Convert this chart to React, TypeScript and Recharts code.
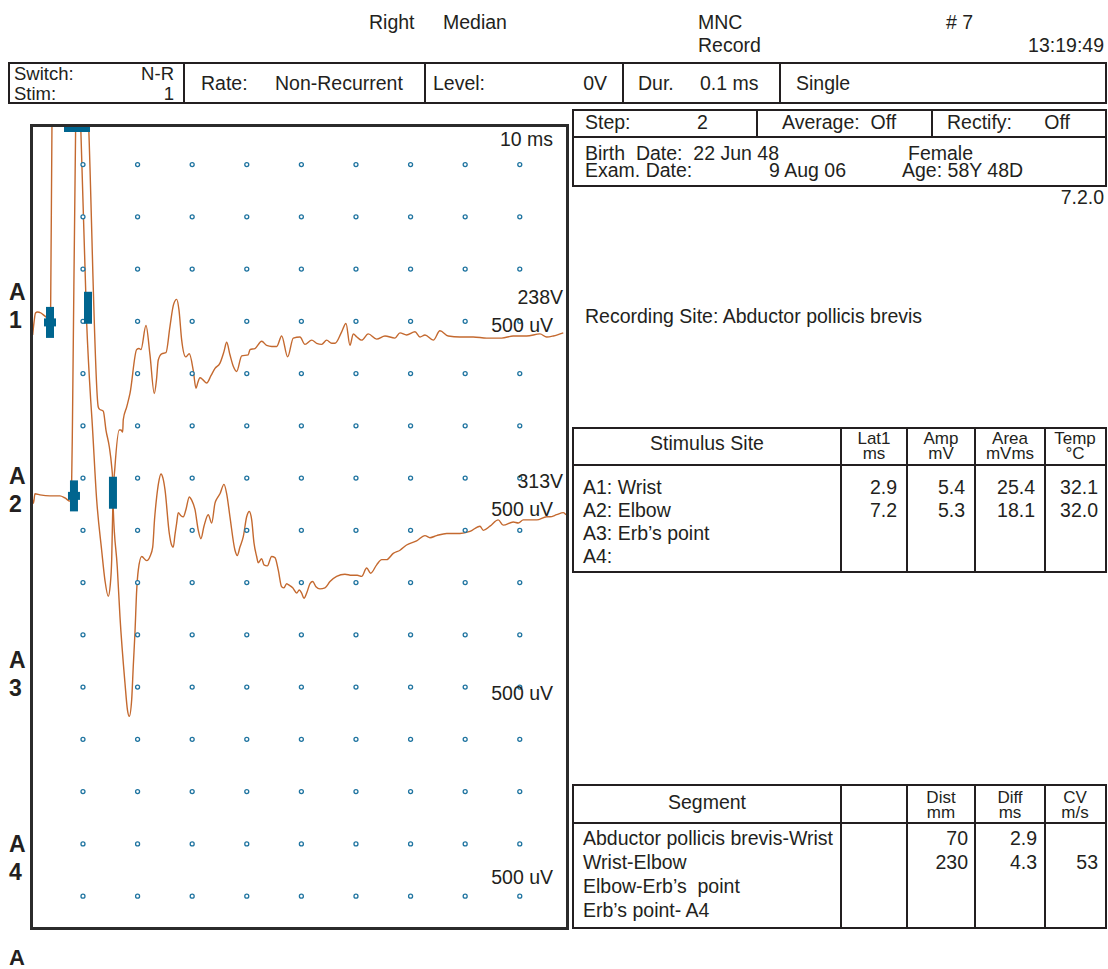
import React from 'react'
import { ComposedChart, Line, Scatter, XAxis, YAxis } from 'recharts'

const FONT = '"Liberation Sans", Arial, Helvetica, sans-serif'
const INK = '#231f20'
const TRACE = '#c4692f'
const MARK = '#00658f'
const DOT = '#1f74a0'

// sweep 10 ms / division, sensitivity 500 uV / division
const TIME_TICKS = [10, 20, 30, 40, 50, 60, 70, 80, 90]
const LEVEL_TICKS = [0, 0.5, 1, 1.5, 2, 2.5, 3, 3.5, 4, 4.5, 5, 5.5, 6, 6.5, 7]
const X_DOMAIN: [number, number] = [0.48, 98.65]
const Y_DOMAIN: [number, number] = [-0.305, 7.379]

// vertical position of each channel's baseline (mV on the shared scale)
const BASE: Record<string, number> = { A1: 5.59, A2: 3.83 }

// [ms, mV] relative to channel baseline, negative up
const A1_TRACE: [number, number][] = [
  [0.79, -0.22], [1.03, -0.1], [1.3, -0.01], [1.67, 0], [2.31, -0.01], [3.04, -0.04], [3.59, -0.06],
  [4.08, 0.05], [4.32, 1.79], [7.99, 5.4], [9.58, 1.79], [10.68, -0.11], [11.41, -0.84], [11.65, -1.03],
  [12.51, -1.8], [13.42, -2.28], [14.03, -2.57], [14.63, -2.72], [15.0, -2.61], [15.26, -2.37],
  [15.49, -1.8], [15.86, -1.48], [16.65, -1.13], [16.96, -1.13], [17.27, -1.15], [17.38, -1.03],
  [18.0, -0.91], [18.61, -0.78], [19.84, -0.36], [20.26, -0.35], [20.62, -0.36], [21.54, -0.13],
  [22.27, -0.41], [23.06, -0.78], [23.46, -0.65], [23.79, -0.46], [24.41, -0.4], [25.2, -0.39],
  [25.93, -0.14], [26.58, 0.07], [27.16, 0.12], [27.58, 0.02], [28.08, -0.27], [28.81, -0.43],
  [29.47, -0.4], [30.2, -0.56], [30.7, -0.73], [31.01, -0.68], [31.43, -0.63], [31.98, -0.65],
  [32.66, -0.68], [33.44, -0.61], [34.18, -0.54], [35.09, -0.49], [35.82, -0.38], [36.32, -0.29],
  [36.92, -0.41], [37.53, -0.52], [38.15, -0.57], [39.07, -0.42], [40.27, -0.41], [40.59, -0.36],
  [41.5, -0.35], [42.73, -0.28], [43.64, -0.32], [44.56, -0.33], [45.48, -0.33], [46.39, -0.23],
  [47.49, -0.43], [48.52, -0.25], [49.74, -0.24], [50.66, -0.31], [51.89, -0.27], [52.8, -0.3],
  [53.72, -0.31], [54.63, -0.27], [55.55, -0.3], [56.15, -0.3], [57.38, -0.19], [58.17, -0.11],
  [58.9, -0.32], [59.51, -0.21], [60.18, -0.24], [61.04, -0.27], [62.25, -0.21], [63.79, -0.26],
  [65.31, -0.23], [67.14, -0.25], [68.06, -0.2], [69.27, -0.22], [70.81, -0.19], [71.72, -0.24],
  [72.64, -0.22], [74.16, -0.27], [75.38, -0.18], [76.9, -0.23], [79.05, -0.24], [81.48, -0.24],
  [83.94, -0.25], [86.69, -0.25], [88.81, -0.23], [91.26, -0.23], [93.7, -0.21], [94.93, -0.24],
  [96.14, -0.23], [97.97, -0.2],
]

const A2_TRACE: [number, number][] = [
  [0.66, -0.01], [0.93, -0.07], [1.21, 0.02], [2.12, 0.01], [3.96, 0], [5.79, 0], [6.7, -0.02],
  [7.62, -0.05], [7.93, 0.15], [8.08, 0.73], [8.66, 3.55], [9.82, 5.3], [11.04, 3.55], [12.8, 0.85],
  [13.02, 0.83], [13.72, 0.81], [14.21, 0.63], [14.82, 0.47], [15.26, 0.28], [15.44, 0.15],
  [15.55, -0.13], [16.28, -0.68], [16.78, -1.16], [17.69, -1.79], [18.15, -2.05], [18.48, -2.11],
  [18.92, -1.95], [19.21, -1.63], [19.52, -1.31], [19.84, -0.9], [20.13, -0.71], [20.75, -0.58],
  [21.67, -0.62], [22.27, -0.58], [22.77, -0.49], [23.1, -0.23], [23.5, -0.01], [23.83, 0.12],
  [24.29, 0.21], [24.65, 0.17], [25.02, 0.06], [25.81, -0.36], [26.17, -0.46], [26.54, -0.49],
  [26.85, -0.37], [27.16, -0.26], [27.45, -0.16], [27.95, -0.19], [28.37, -0.2], [28.86, -0.13],
  [29.47, -0.01], [29.91, -0.04], [30.51, -0.13], [31.12, -0.33], [31.61, -0.41], [32.16, -0.29],
  [32.95, -0.18], [33.57, -0.26], [34.18, -0.07], [34.6, -0.02], [35.09, 0.02], [35.82, 0.11],
  [36.32, 0.02], [36.92, -0.2], [37.84, -0.52], [38.26, -0.57], [38.75, -0.49], [39.36, -0.39],
  [39.98, -0.2], [40.46, -0.15], [40.9, -0.23], [41.32, -0.45], [41.81, -0.58], [42.11, -0.64],
  [42.73, -0.6], [43.15, -0.66], [43.75, -0.67], [44.56, -0.58], [45.16, -0.59], [45.77, -0.71],
  [46.39, -0.87], [46.81, -0.88], [47.3, -0.84], [47.6, -0.85], [48.41, -0.88], [49.14, -0.93],
  [49.62, -0.9], [50.05, -0.93], [50.48, -0.98], [50.97, -0.93], [51.58, -0.84], [52.07, -0.82],
  [52.67, -0.87], [53.41, -0.89], [54.32, -0.88], [55.24, -0.82], [56.46, -0.77], [57.98, -0.75],
  [59.21, -0.76], [60.24, -0.76], [61.04, -0.77], [61.96, -0.69], [62.69, -0.74], [63.79, -0.66],
  [64.71, -0.61], [65.62, -0.61], [66.83, -0.55], [68.06, -0.52], [69.27, -0.47], [71.11, -0.43],
  [72.64, -0.38], [73.55, -0.4], [74.78, -0.38], [76.61, -0.36], [79.05, -0.36], [80.88, -0.34],
  [82.71, -0.29], [83.32, -0.33], [84.54, -0.29], [86.06, -0.23], [86.98, -0.28], [88.81, -0.25],
  [89.73, -0.26], [90.64, -0.23], [93.1, -0.23], [94.93, -0.2], [95.53, -0.2], [96.76, -0.18],
  [97.97, -0.16], [98.46, -0.18],
]

// cursors: stimulus, onset and (off-scale) negative peak
const MARKERS = [
  { ch: 'A1', kind: 'stim', t: 3.96, v: -0.1 },
  { ch: 'A1', kind: 'peak', t: 7.99, v: 5.4 },
  { ch: 'A1', kind: 'onset', t: 10.92, v: 0.04 },
  { ch: 'A2', kind: 'stim', t: 8.35, v: 0 },
  { ch: 'A2', kind: 'peak', t: 9.82, v: 5.3 },
  { ch: 'A2', kind: 'onset', t: 15.49, v: 0.03 },
]

const CHANNELS = ['1', '2', '3', '4']
const CHANNEL_STIM = ['238V', '313V', '', '']

const SITES = ['A1: Wrist', 'A2: Elbow', 'A3: Erb\u2019s point', 'A4:']
const LAT1 = ['2.9', '7.2', '', '']
const AMP = ['5.4', '5.3', '', '']
const AREA = ['25.4', '18.1', '', '']
const TEMP = ['32.1', '32.0', '', '']

const SEGMENTS = ['Abductor pollicis brevis-Wrist', 'Wrist-Elbow', 'Elbow-Erb\u2019s  point', 'Erb\u2019s point- A4']
const DIST = ['70', '230', '', '']
const DIFF = ['2.9', '4.3', '', '']
const CV = ['', '53', '', '']

function T({ x, y, children, align = 'left', size = 19.5, bold = false, lh = 1 }: any) {
  const sx = align === 'right' ? '-100%' : align === 'center' ? '-50%' : '0'
  return (
    <div style={{
      position: 'absolute', left: x, top: y, transform: `translate(${sx}, -50%)`,
      fontSize: size, fontWeight: bold ? 700 : 400, lineHeight: lh, whiteSpace: 'pre', color: INK,
    }}>{children}</div>
  )
}

function Rule({ x1, y1, x2, y2, w = 2.2 }: any) {
  return (
    <div style={{
      position: 'absolute', left: Math.min(x1, x2) - w / 2, top: Math.min(y1, y2) - w / 2,
      width: Math.abs(x2 - x1) + w, height: Math.abs(y2 - y1) + w, background: INK,
    }} />
  )
}

function Frame({ x1, y1, x2, y2, w = 2.2, color = INK }: any) {
  return (
    <div style={{
      position: 'absolute', left: x1 - w / 2, top: y1 - w / 2, width: x2 - x1 + w, height: y2 - y1 + w,
      border: `${w}px solid ${color}`, boxSizing: 'border-box',
    }} />
  )
}

const MarkerShape = (p: any) => {
  const { cx, cy, payload } = p
  if (payload.kind === 'peak') return <rect x={cx - 8} y={cy} width={16} height={7} fill={MARK} />
  if (payload.kind === 'stim') {
    return (
      <g>
        <rect x={cx - 4} y={cy - 15.5} width={8} height={31} fill={MARK} />
        <rect x={cx - 6} y={cy - 4} width={12} height={8} fill={MARK} />
      </g>
    )
  }
  return <rect x={cx - 4} y={cy - 16} width={8} height={32} fill={MARK} />
}

const DotShape = (p: any) => <circle cx={p.cx} cy={p.cy} r={2} fill="#fff" stroke={DOT} strokeWidth={1.3} />

// two-line column heading, squeezed like the printout
function Head({ x, y, top, bottom }: any) {
  return (
    <div style={{
      position: 'absolute', left: x, top: y, transform: 'translate(-50%, -50%)', textAlign: 'center',
      fontSize: 17, lineHeight: '15px', color: INK, whiteSpace: 'pre',
    }}>{top}<br />{bottom}</div>
  )
}

export default function App() {
  const a1 = A1_TRACE.map(([t, v]) => ({ t, y: BASE.A1 + v }))
  const a2 = A2_TRACE.map(([t, v]) => ({ t, y: BASE.A2 + v }))
  const grid = TIME_TICKS.flatMap(t => LEVEL_TICKS.map(y => ({ t, y })))
  const marks = MARKERS.map(m => ({ t: m.t, y: Math.min(BASE[m.ch] + m.v, Y_DOMAIN[1]), kind: m.kind }))

  const colRight = [897, 965, 1035, 1098]
  const rowsY = [488, 511, 534, 557]
  const segY = [839, 863, 887, 911]

  return (
    <div style={{ position: 'absolute', left: 0, top: 0, width: 1108, height: 969, background: '#fff', fontFamily: FONT, overflow: 'hidden' }}>
      <ComposedChart width={1108} height={969} margin={{ top: 125, left: 31, right: 541, bottom: 41 }}
        style={{ position: 'absolute', left: 0, top: 0 }}>
        <XAxis type="number" dataKey="t" domain={X_DOMAIN} allowDataOverflow hide />
        <YAxis type="number" dataKey="y" domain={Y_DOMAIN} allowDataOverflow hide />
        <Scatter data={grid} shape={DotShape} isAnimationActive={false} />
        <Line data={a1} dataKey="y" type="monotoneX" stroke={TRACE} strokeWidth={1.4} dot={false} activeDot={false} isAnimationActive={false} />
        <Line data={a2} dataKey="y" type="monotoneX" stroke={TRACE} strokeWidth={1.4} dot={false} activeDot={false} isAnimationActive={false} />
        <Scatter data={marks} shape={MarkerShape} isAnimationActive={false} />
      </ComposedChart>

      {/* header */}
      <T x={369} y={23}>Right</T>
      <T x={443} y={23}>Median</T>
      <T x={698} y={23}>MNC</T>
      <T x={698} y={46}>Record</T>
      <T x={946} y={23}># 7</T>
      <T x={1104} y={46} align="right">13:19:49</T>

      {/* stimulator settings */}
      <Frame x1={9} y1={63} x2={1106} y2={103} />
      {[184, 425, 623, 780].map(x => <Rule key={x} x1={x} y1={63} x2={x} y2={103} />)}
      <T x={14} y={74} size={18.5} lh={0.85}>Switch:</T>
      <T x={174} y={74} size={18.5} lh={0.85} align="right">N-R</T>
      <T x={14} y={94} size={18.5} lh={0.85}>Stim:</T>
      <T x={174} y={94} size={18.5} lh={0.85} align="right">1</T>
      <T x={201} y={84}>Rate:</T>
      <T x={275} y={84}>Non-Recurrent</T>
      <T x={433} y={84}>Level:</T>
      <T x={607} y={84} align="right">0V</T>
      <T x={638} y={84}>Dur.</T>
      <T x={700} y={84}>0.1 ms</T>
      <T x={796} y={84}>Single</T>

      {/* acquisition / patient box */}
      <Frame x1={573} y1={110} x2={1106} y2={186} />
      <Rule x1={573} y1={137} x2={1106} y2={137} />
      <Rule x1={757} y1={110} x2={757} y2={137} />
      <Rule x1={932} y1={110} x2={932} y2={137} />
      <T x={585} y={123}>Step:</T>
      <T x={697} y={123}>2</T>
      <T x={782} y={123}>{'Average:  Off'}</T>
      <T x={947} y={123}>Rectify:</T>
      <T x={1070} y={123} align="right">Off</T>
      <T x={585} y={153} lh={0.85}>{'Birth  Date:  22 Jun 48'}</T>
      <T x={908} y={153} lh={0.85}>Female</T>
      <T x={585} y={170} lh={0.85}>Exam. Date:</T>
      <T x={769} y={170} lh={0.85}>9 Aug 06</T>
      <T x={902} y={170} lh={0.85}>Age: 58Y 48D</T>
      <T x={1104} y={198} align="right">7.2.0</T>

      <T x={585} y={317}>Recording Site: Abductor pollicis brevis</T>

      {/* trace window */}
      <Frame x1={31} y1={125} x2={567} y2={928} w={3} color="#2b2b2b" />
      <T x={553} y={140} align="right">10 ms</T>
      {CHANNELS.map((c, i) => (
        <React.Fragment key={c}>
          <T x={9} y={292 + i * 184} size={23} bold>A</T>
          <T x={9} y={320 + i * 184} size={23} bold>{c}</T>
          {CHANNEL_STIM[i] && <T x={563} y={298 + i * 184} align="right">{CHANNEL_STIM[i]}</T>}
          <T x={553} y={326 + i * 184} align="right">500 uV</T>
        </React.Fragment>
      ))}
      <T x={9} y={958} size={22} bold lh={0.8}>A</T>

      {/* stimulus site table */}
      <Frame x1={573} y1={428} x2={1106} y2={572} />
      <Rule x1={573} y1={465} x2={1106} y2={465} />
      {[841, 907, 975, 1045].map(x => <Rule key={x} x1={x} y1={428} x2={x} y2={572} />)}
      <T x={707} y={444} align="center">Stimulus Site</T>
      <Head x={874} y={446} top="Lat1" bottom="ms" />
      <Head x={941} y={446} top="Amp" bottom="mV" />
      <Head x={1010} y={446} top="Area" bottom="mVms" />
      <Head x={1075} y={446} top="Temp" bottom={'\u00b0C'} />
      {SITES.map((s, i) => (
        <React.Fragment key={s}>
          <T x={583} y={rowsY[i]}>{s}</T>
          {[LAT1, AMP, AREA, TEMP].map((col, j) => col[i] && <T key={j} x={colRight[j]} y={rowsY[i]} align="right">{col[i]}</T>)}
        </React.Fragment>
      ))}

      {/* conduction segment table */}
      <Frame x1={573} y1={785} x2={1106} y2={928} />
      <Rule x1={573} y1={823} x2={1106} y2={823} />
      {[841, 907, 975, 1045].map(x => <Rule key={x} x1={x} y1={785} x2={x} y2={928} />)}
      <T x={707} y={803} align="center">Segment</T>
      <Head x={941} y={805} top="Dist" bottom="mm" />
      <Head x={1010} y={805} top="Diff" bottom="ms" />
      <Head x={1075} y={805} top="CV" bottom="m/s" />
      {SEGMENTS.map((s, i) => (
        <React.Fragment key={s}>
          <T x={583} y={segY[i]}>{s}</T>
          {[DIST, DIFF, CV].map((col, j) => col[i] && <T key={j} x={[968, 1037, 1098][j]} y={segY[i]} align="right">{col[i]}</T>)}
        </React.Fragment>
      ))}
    </div>
  )
}
